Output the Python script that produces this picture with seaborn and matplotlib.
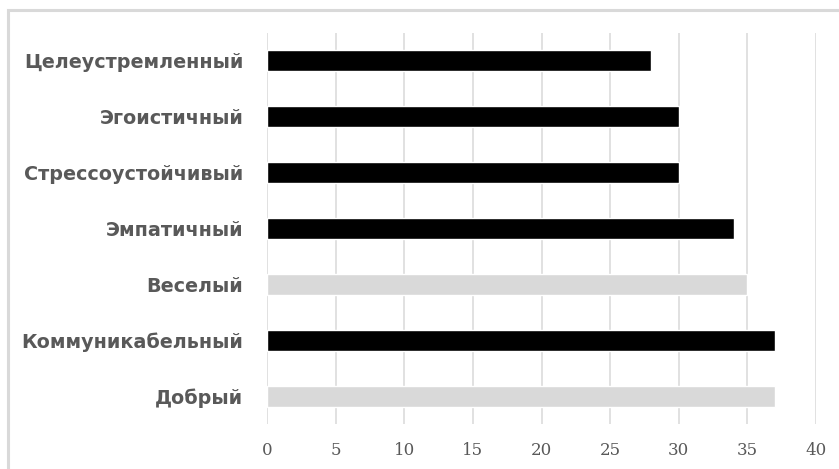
import matplotlib
matplotlib.use("Agg")
import matplotlib.pyplot as plt
import seaborn as sns
import pandas as pd
from matplotlib.patches import Rectangle

categories = ["Целеустремленный", "Эгоистичный", "Стрессоустойчивый", "Эмпатичный",
              "Веселый", "Коммуникабельный", "Добрый"]
values = [28, 30, 30, 34, 35, 37, 37]
bar_colors = ["#000000", "#000000", "#000000", "#000000", "#d9d9d9", "#000000", "#d9d9d9"]
x_ticks = [0, 5, 10, 15, 20, 25, 30, 35, 40]

df = pd.DataFrame({"trait": categories, "count": values})
palette = dict(zip(categories, bar_colors))

sns.set_theme(style="white")
plt.rcParams["font.family"] = ["DejaVu Sans"]

fig = plt.figure(figsize=(8.39, 4.69), dpi=100)
ax = fig.add_axes([267 / 839, 1 - 424 / 469, (816 - 267) / 839, (424 - 33) / 469])

sns.barplot(data=df, x="count", y="trait", hue="trait", palette=palette,
            order=categories, width=0.375, saturation=1, legend=False, ax=ax)

ax.set_xlim(0, 40)
ax.set_ylim(len(categories) - 0.5, -0.5)
ax.set_xticks(x_ticks)
ax.set_xticklabels([str(t) for t in x_ticks], family="DejaVu Serif",
                   fontsize=12, color="#595959")
ax.set_yticks(range(len(categories)))
ax.set_yticklabels(categories, fontsize=13.8, fontweight="bold", color="#595959")
ax.set_xlabel("")
ax.set_ylabel("")
ax.tick_params(axis="y", length=0, pad=17)
ax.tick_params(axis="x", length=0, pad=13)

ax.grid(axis="x", color="#d9d9d9", linewidth=1.1)
ax.set_axisbelow(True)
for s in ax.spines.values():
    s.set_visible(False)

# light frame around the chart area
fig.patches.append(Rectangle((8 / 839, -0.05), 1.0, 1 - 10 / 469 + 0.05,
                             transform=fig.transFigure, fill=False,
                             edgecolor="#d9d9d9", linewidth=2.2))

fig.savefig("out.png", dpi=100)
